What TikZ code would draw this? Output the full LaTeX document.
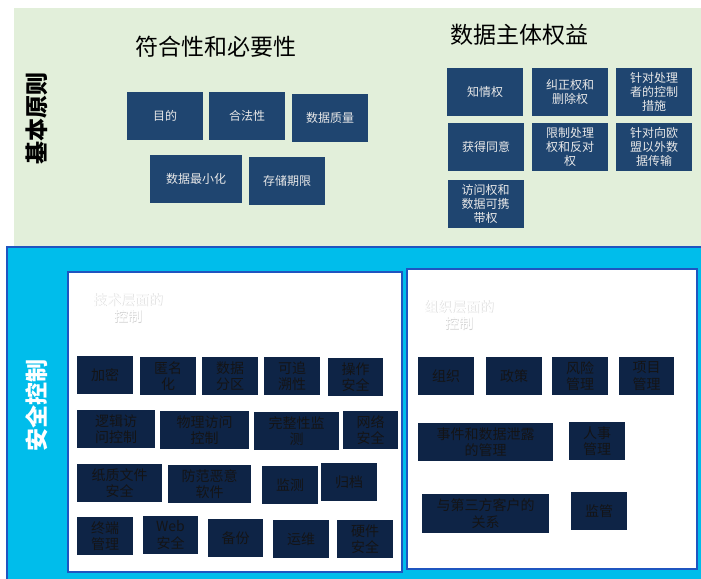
\documentclass[tikz,border=0pt]{standalone}
\usepackage{fontspec}
\setmainfont{Noto Sans CJK SC}
\usepackage{tikz}
\usetikzlibrary{
    positioning
}
\definecolor{principlegreen}{RGB}{226,239,218}
\definecolor{principleblue}{RGB}{31,69,112}
\definecolor{principletext}{RGB}{232,232,232}
\definecolor{controlcyan}{RGB}{0,189,235}
\definecolor{controlnavy}{RGB}{14,36,70}
\definecolor{controltext}{RGB}{20,20,22}
\definecolor{panelborder}{RGB}{31,85,192}
\tikzset{
    % Box of the upper part:
    principle box/.style = {
        rectangle,
        fill = principleblue,
        text = principletext,
        align = center,
        inner sep = 0pt,
        minimum width = 76pt,
        minimum height = 48pt,
        font = \fontsize{12}{14}\selectfont
    },
    % Box of the lower part:
    control box/.style = {
        rectangle,
        fill = controlnavy,
        text = controltext,
        align = center,
        inner sep = 0pt,
        minimum width = 56pt,
        minimum height = 38pt,
        font = \fontsize{14}{16.5}\selectfont
    },
    % White panel:
    panel/.style = {
        draw = panelborder,
        fill = white,
        line width = 1.6pt
    },
    heading/.style = {
        font = \fontsize{23}{26}\selectfont
    },
    side label/.style = {
        rotate = 90,
        font = \fontsize{23}{26}\selectfont\bfseries
    },
    panel title/.style = {
        align = center,
        text = white,
        font = \fontsize{14}{16.5}\selectfont
    },
    shadow title/.style = {
        panel title,
        text = black!18
    }
}

\begin{document}
\begin{tikzpicture}[x=1pt, y=-1pt]
    \useasboundingbox (0, 0) rectangle (701, 578);
    % Principles:
    \fill [principlegreen] (14, 8) rectangle (701, 246);
    \node [side label] (principles) at (37, 118) {基本原则};
    \node [heading] (necessity) at (216, 47) {符合性和必要性};
    \node [heading] (rights) at (519, 35) {数据主体权益};
    \node [principle box] (purpose) at (165, 116) {目的};
    \node [principle box] (lawful) at (247, 116) {合法性};
    \node [principle box] (quality) at (330, 118) {数据质量};
    \node [principle box, minimum width=92pt] (minimise) at (196, 179) {数据最小化};
    \node [principle box] (storage) at (287, 181) {存储期限};
    \node [principle box] (inform) at (485, 92) {知情权};
    \node [principle box] (rectify) at (570, 92) {纠正权和\\删除权};
    \node [principle box] (processor) at (654, 92) {针对处理\\者的控制\\措施};
    \node [principle box] (consent) at (486, 147) {获得同意};
    \node [principle box] (restrict) at (570, 147) {限制处理\\权和反对\\权};
    \node [principle box] (transfer) at (654, 147) {针对向欧\\盟以外数\\据传输};
    \node [principle box] (access) at (485.5, 204) {访问权和\\数据可携\\带权};
    % Security controls:
    \path [draw=panelborder, fill=controlcyan, line width=1.6pt] (7, 247) rectangle (703, 580);
    \node [side label, text=white] (security) at (37, 405) {安全控制};
    \draw [panel] (68, 272) rectangle (402, 572);
    \draw [panel] (407, 269) rectangle (697, 569);
    \node [shadow title] (techshadow) at (128.7, 308.7) {技术层面的\\控制};
    \node [panel title] (techtitle) at (128, 308) {技术层面的\\控制};
    \node [shadow title] (orgshadow) at (459.7, 315.7) {组织层面的\\控制};
    \node [panel title] (orgtitle) at (459, 315) {组织层面的\\控制};
    % technical
    \node [control box] (encrypt) at (105, 375) {加密};
    \node [control box] (anonymise) at (168, 376) {匿名\\化};
    \node [control box] (partition) at (230, 376) {数据\\分区};
    \node [control box] (trace) at (292, 376) {可追\\溯性};
    \node [control box, minimum width=55pt] (operation) at (355.5, 377) {操作\\安全};
    \node [control box, minimum width=78pt] (logical) at (116, 429) {逻辑访\\问控制};
    \node [control box, minimum width=89pt] (physical) at (204.5, 430) {物理访问\\控制};
    \node [control box, minimum width=85pt] (integrity) at (296.5, 431) {完整性监\\测};
    \node [control box, minimum width=55pt] (network) at (370.5, 430) {网络\\安全};
    \node [control box, minimum width=85pt] (paper) at (119.5, 483) {纸质文件\\安全};
    \node [control box, minimum width=83pt] (malware) at (209.5, 484) {防范恶意\\软件};
    \node [control box] (monitor) at (290, 485) {监测};
    \node [control box] (archive) at (349, 482) {归档};
    \node [control box] (endpoint) at (105, 536) {终端\\管理};
    \node [control box, minimum width=55pt] (web) at (170.5, 535) {Web\\安全};
    \node [control box, minimum width=55pt] (backup) at (235.5, 538) {备份};
    \node [control box] (opsmaint) at (301, 539) {运维};
    \node [control box] (hardware) at (365, 539) {硬件\\安全};
    % organisational
    \node [control box] (organisation) at (446, 376) {组织};
    \node [control box] (policy) at (514, 376) {政策};
    \node [control box] (risk) at (580, 376) {风险\\管理};
    \node [control box, minimum width=55pt] (project) at (646.5, 376) {项目\\管理};
    \node [control box, minimum width=135pt] (incident) at (485.5, 442) {事件和数据泄露\\的管理};
    \node [control box] (personnel) at (597, 441) {人事\\管理};
    \node [control box, minimum width=127pt, minimum height=39pt] (thirdparty) at (485.5, 513.5) {与第三方客户的\\关系};
    \node [control box] (supervision) at (599, 511) {监管};
\end{tikzpicture}
\end{document}
